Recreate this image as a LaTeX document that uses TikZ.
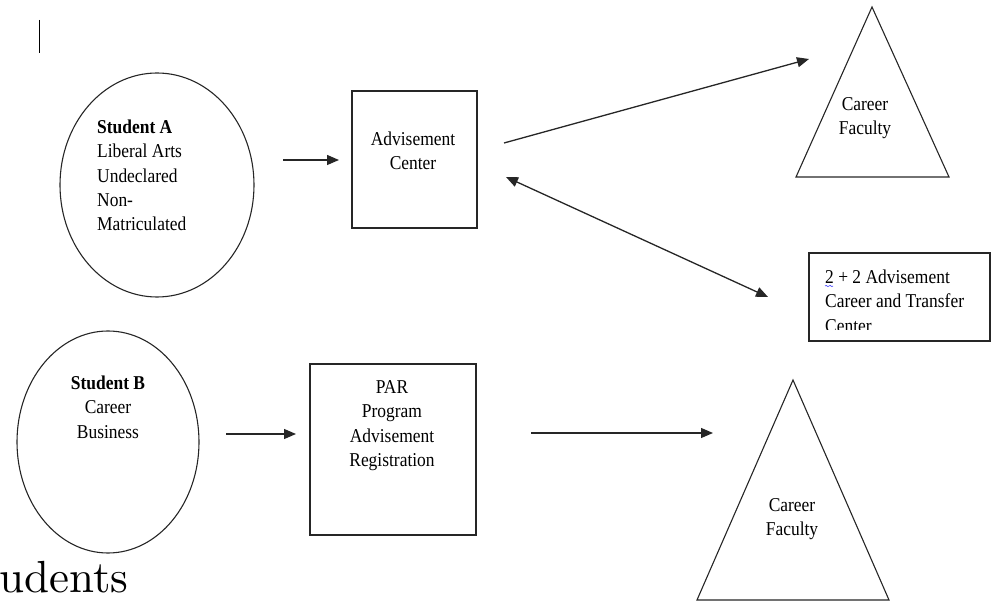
\documentclass[tikz,border=0pt]{standalone}
\usepackage{fontspec}
\setmainfont{Liberation Serif}[FakeStretch=0.89]
\usetikzlibrary{arrows.meta,shapes.geometric}
\begin{document}
\begin{tikzpicture}[x=1pt,y=-1pt,
  shapeline/.style={draw=black!85,line width=1.1pt},
  lbl/.style={font=\fontsize{19.6}{24.3}\selectfont,inner sep=0pt,align=center,anchor=base},
  lbll/.style={font=\fontsize{19.6}{24.3}\selectfont,inner sep=0pt,align=left,anchor=base west},
  arr/.style={draw=black!85,line width=1.3pt,-{Triangle[length=12pt,width=10pt]}},
  darr/.style={draw=black!85,line width=1.3pt,{Triangle[length=12pt,width=10pt]}-{Triangle[length=12pt,width=10pt]}}]
\useasboundingbox (0,0) rectangle (994,601);
\clip (0,0) rectangle (994,601);
% stray bar
\coordinate (bar1) at (39,20);
\coordinate (bar2) at (39,53);
\draw[line width=1pt] (bar1) -- (bar2);
% Student A
\node[ellipse,shapeline,minimum width=194pt,minimum height=224pt,inner sep=0pt] (sa) at (157,185) {};
\node[lbll] (satext) at (97,230.7) {\textbf{Student A}\\Liberal Arts\\Undeclared\\Non-\\Matriculated};
% Advisement Center
\node[rectangle,shapeline,minimum width=125pt,minimum height=137pt,inner sep=0pt] (adv) at (414.5,159.5) {};
\node[lbl] (advtext) at (413,169.8) {Advisement\\Center};
% Career Faculty top
\coordinate (t1a) at (872,7);
\coordinate (t1l) at (796,177);
\coordinate (t1r) at (949,177);
\draw[shapeline,line join=miter] (t1a) -- (t1l) -- (t1r) -- cycle;
\node[lbl] (cf1) at (865,134.8) {Career\\Faculty};
% 2+2 box
\node[rectangle,shapeline,minimum width=181pt,minimum height=88pt,inner sep=0pt] (tt) at (899.5,297) {};
\begin{scope}
\clip (810,254) rectangle (989,330);
\node[lbll] (tttext) at (825,332.1) {2 + 2 Advisement\\Career and Transfer\\Center};
\end{scope}
\draw[blue!80,line width=0.6pt] (825,286) .. controls (826.5,284) and (827.5,288) .. (829,286) .. controls (830.5,284) and (831.5,288) .. (833,286);
% Student B
\node[ellipse,shapeline,minimum width=182pt,minimum height=222pt,inner sep=0pt] (sb) at (108,442) {};
\node[lbl] (sbtext) at (108,438.1) {\textbf{Student B}\\Career\\Business};
% PAR
\node[rectangle,shapeline,minimum width=166pt,minimum height=171pt,inner sep=0pt] (par) at (393,449.5) {};
\node[lbl] (partext) at (392,466.4) {PAR\\Program\\Advisement\\Registration};
% Career Faculty bottom
\coordinate (t2a) at (793,380);
\coordinate (t2l) at (697,600);
\coordinate (t2r) at (889,600);
\draw[shapeline,line join=miter] (t2a) -- (t2l) -- (t2r) -- cycle;
\node[lbl] (cf2) at (792,535.8) {Career\\Faculty};
% Students title fragment
\node[font=\fontsize{45}{45}\selectfont,inner sep=0pt,anchor=base west] (title) at (-1,592) {\fontspec{lmroman10-regular.otf}udents};
% arrow endpoints
\coordinate (a1s) at (283,160);
\coordinate (a1e) at (339,160);
\coordinate (a2s) at (504,143);
\coordinate (a2e) at (809,59);
\coordinate (a3s) at (506,177);
\coordinate (a3e) at (768,297);
\coordinate (a4s) at (226,434);
\coordinate (a4e) at (296,434);
\coordinate (a5s) at (531,433);
\coordinate (a5e) at (713,433);
\draw[arr] (a1s) -- (a1e);
\draw[arr] (a2s) -- (a2e);
\draw[darr] (a3s) -- (a3e);
\draw[arr] (a4s) -- (a4e);
\draw[arr] (a5s) -- (a5e);
\end{tikzpicture}
\end{document}
